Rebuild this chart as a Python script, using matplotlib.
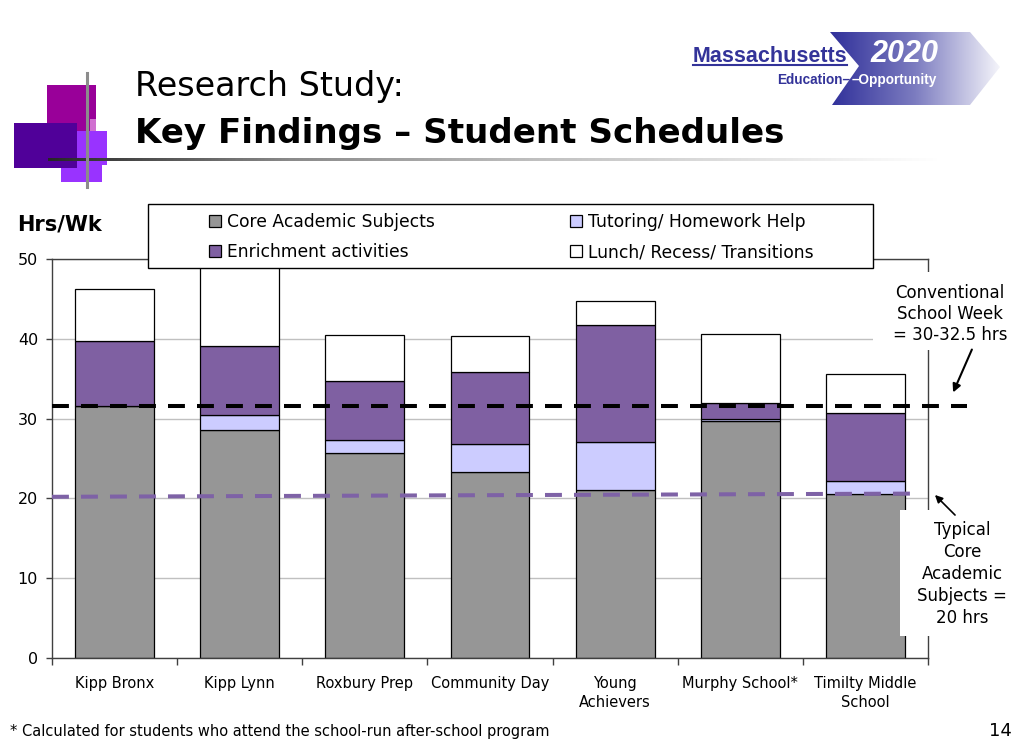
import matplotlib
matplotlib.use('Agg')
import matplotlib.pyplot as plt
import numpy as np
from matplotlib.patches import Rectangle, Polygon
from matplotlib.colors import LinearSegmentedColormap

# data (hours per week)
schools = ['Kipp Bronx', 'Kipp Lynn', 'Roxbury Prep', 'Community Day',
           'Young\nAchievers', 'Murphy School*', 'Timilty Middle\nSchool']
core = [31.6, 28.6, 25.7, 23.3, 21.1, 29.7, 20.5]
tutoring = [0.0, 1.9, 1.6, 3.5, 6.0, 0.2, 1.7]
enrichment = [8.1, 8.6, 7.4, 9.0, 14.6, 2.0, 8.5]
lunch = [6.5, 10.1, 5.8, 4.5, 3.0, 8.7, 4.9]
series_names = ['Core Academic Subjects', 'Tutoring/ Homework Help',
                'Enrichment activities', 'Lunch/ Recess/ Transitions']
yticks = [0, 10, 20, 30, 40, 50]
conventional_week = [31.6, 31.6]
typical_core = [20.2, 20.6]

plt.rcParams['font.family'] = 'DejaVu Sans'

fig = plt.figure(figsize=(10.24, 7.45), dpi=100)
ax = fig.add_axes([52 / 1024, 87 / 745, 876 / 1024, 399 / 745])

# stacked bars
x = np.arange(len(schools))
colors = ['#969696', '#CCCCFF', '#7F60A2', 'white']
bottom = np.zeros(len(schools))
handles = []
for vals, c, name in zip([core, tutoring, enrichment, lunch], colors, series_names):
    b = ax.bar(x, vals, 0.63, bottom=bottom, color=c, edgecolor='black',
               linewidth=0.9, label=name, zorder=2)
    handles.append(b)
    bottom += np.array(vals)

# reference lines
ax.plot([-0.5, 6.81], conventional_week, color='black', lw=2.9,
        dashes=(4.2, 3), clip_on=False, zorder=4)
ax.plot([-0.5, 6.38], typical_core, color='#7E62A6', lw=2.9,
        dashes=(4.2, 3), clip_on=False, zorder=4)

ax.set_xlim(-0.5, 6.5)
ax.set_ylim(0, 50)
ax.set_yticks(yticks)
ax.set_xticks(np.arange(-0.5, 7, 1))
ax.set_xticklabels([])
ax.set_xticks(x, minor=True)
ax.set_xticklabels(schools, minor=True, fontsize=10.5, linespacing=1.3)
ax.tick_params(axis='x', which='minor', length=0, pad=13)
ax.tick_params(axis='x', which='major', length=5, width=1, color='#404040')
ax.tick_params(axis='y', length=4.5, width=1, color='#404040', labelsize=11.5, pad=5.5)
ax.yaxis.grid(True, color='#C0C0C0', lw=1)
ax.set_axisbelow(True)
for s in ax.spines.values():
    s.set_color('#404040')
    s.set_linewidth(1)

# overlay in pixel coordinates for slide decorations
ov = fig.add_axes([0, 0, 1, 1], zorder=3)
ov.axis('off')

# logo squares
ov.add_patch(Rectangle((47, 85), 49, 47, fc='#990099', ec='none'))
ov.add_patch(Rectangle((90, 119), 6, 12, fc='#D070D0', ec='none'))
ov.add_patch(Rectangle((61, 131), 46, 34, fc='#9933FF', ec='none'))
ov.add_patch(Rectangle((61, 165), 41, 17, fc='#9933FF', ec='none'))
ov.add_patch(Rectangle((14, 123), 63, 45, fc='#500099', ec='none'))

# title underline, fading out to the right
grey = LinearSegmentedColormap.from_list(
    'fade', [(0, '#262626'), (0.27, '#8A8A8A'), (0.55, '#C0C0C0'), (1, '#FFFFFF')])
ov.imshow(np.linspace(0, 1, 512)[None, :], cmap=grey, extent=(48, 940, 161.5, 158.5),
          aspect='auto', zorder=2)
ov.plot([87, 87], [73, 187], color='#8C8C8C', lw=2.2, zorder=3)

ov.text(135, 96, 'Research Study:', fontsize=24, va='baseline')
ov.text(135, 143, 'Key Findings \u2013 Student Schedules', fontsize=24.6,
        fontweight='bold', va='baseline')

# Massachusetts 2020 banner
banner = Polygon([(830, 32), (970, 32), (1000, 67), (970, 105), (832, 105), (859, 66)],
                 closed=True, fc='none', ec='none')
ov.add_patch(banner)
cmap = LinearSegmentedColormap.from_list('banner', ['#30309A', '#7C7CC0', '#F4F4FA'])
im = ov.imshow(np.linspace(0, 1, 256)[None, :], cmap=cmap, extent=(830, 1000, 105, 32),
               aspect='auto', zorder=1)
im.set_clip_path(banner)
ov.text(693, 62, 'Massachusetts', family='Liberation Sans', fontweight='bold',
        fontsize=15.5, color='#333399', va='baseline')
ov.plot([693, 847], [64.5, 64.5], color='#333399', lw=1.5)
ov.text(870, 62, '2020', family='Liberation Sans', fontweight='bold', style='italic',
        fontsize=22, color='white', va='baseline')
ov.text(777, 84, 'Education\u2013', family='Liberation Sans', fontweight='bold',
        fontsize=9.8, color='#333399', va='baseline')
ov.text(852, 84, '\u2013Opportunity', family='Liberation Sans', fontweight='bold',
        fontsize=9.8, color='white', va='baseline')

# legend box
ov.add_patch(Rectangle((148, 204), 725, 64, fc='white', ec='black', lw=1))
fig.legend(handles=[handles[0], handles[2], handles[1], handles[3]],
           labels=[series_names[0], series_names[2], series_names[1], series_names[3]],
           ncol=2, loc='center', bbox_to_anchor=(511 / 1024, 1 - 237 / 745),
           frameon=False, fontsize=12.3, handlelength=0.7, handleheight=0.7,
           handletextpad=0.35, columnspacing=7.9, labelspacing=0.75)

ov.text(17, 230, 'Hrs/Wk', fontsize=15, fontweight='bold', va='baseline')

# annotations on the right
ov.add_patch(Rectangle((873, 272), 142, 78, fc='white', ec='none'))
ov.text(950, 314, 'Conventional\nSchool Week\n= 30-32.5 hrs', fontsize=12,
        ha='center', va='center', linespacing=1.25)
ov.annotate('', xy=(952, 395), xytext=(973, 347),
            arrowprops=dict(arrowstyle='-|>', color='black', lw=1.5, mutation_scale=12))
ov.add_patch(Rectangle((900, 510), 112, 126, fc='white', ec='none'))
ov.text(962, 574, 'Typical\nCore\nAcademic\nSubjects =\n20 hrs', fontsize=12,
        ha='center', va='center', linespacing=1.27)
ov.annotate('', xy=(933, 493), xytext=(957, 517),
            arrowprops=dict(arrowstyle='-|>', color='black', lw=1.2, mutation_scale=11))

ov.text(10, 736, '* Calculated for students who attend the school-run after-school program',
        fontsize=10.5, va='baseline')
ov.text(1012, 736, '14', fontsize=13, ha='right', va='baseline')

ov.set_xlim(0, 1024)
ov.set_ylim(745, 0)

fig.savefig('out.png', dpi=100)
